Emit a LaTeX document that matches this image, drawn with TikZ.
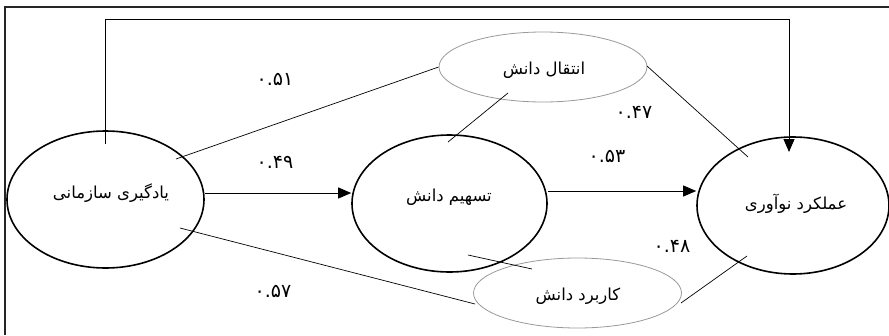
\documentclass[tikz,border=0pt]{standalone}
\usepackage{fontspec}
\usetikzlibrary{shapes.geometric,arrows.meta}
\newfontfamily\arabicfont[Script=Arabic]{DejaVu Sans}
\TeXXeTstate=1
\tikzset{
  main/.style={ellipse,draw=black,line width=1.6pt,inner sep=0pt},
  side/.style={ellipse,draw=black!40,line width=0.8pt,inner sep=0pt,minimum width=208pt,minimum height=70pt},
  lbl/.style={font=\arabicfont\fontsize{16.5}{18}\selectfont},
  coef/.style={font=\arabicfont\fontsize{19}{21}\selectfont},
  link/.style={line width=0.7pt},
  arr/.style={line width=0.9pt,-{Triangle[length=13pt,width=11pt]}},
}
\begin{document}
\begin{tikzpicture}[x=1pt,y=-1pt]
\useasboundingbox (0,0) rectangle (889,335);
% frame (top and left edges)
\draw[line width=2.2pt,black!85] (5,335) -- (5,7) -- (889,7);
% main nodes
\node[main,minimum width=197pt,minimum height=137pt] (L) at (105.5,199.5) {};
\node[main,minimum width=195pt,minimum height=137pt] (M) at (449.5,203.5) {};
\node[main,minimum width=192pt,minimum height=137pt] (R) at (793,205.5) {};
\node[side] (T) at (543,67) {};
\node[side] (B) at (577.5,293) {};
% texts
\node[lbl] (Lt) at (111,193) {\beginR یادگیری سازمانی\endR};
\node[lbl] (Mt) at (449,197) {\beginR تسهیم دانش\endR};
\node[lbl] (Rt) at (796,204) {\beginR عملکرد نوآوری\endR};
\node[lbl] (Tt) at (544,70) {\beginR انتقال دانش\endR};
\node[lbl] (Bt) at (578,296) {\beginR کاربرد دانش\endR};
% coefficients
\node[coef] (c51) at (275,79) {۰.۵۱};
\node[coef] (c49) at (275,162) {۰.۴۹};
\node[coef] (c47) at (634,112) {۰.۴۷};
\node[coef] (c53) at (607,156) {۰.۵۳};
\node[coef] (c48) at (672,246) {۰.۴۸};
\node[coef] (c57) at (273,291) {۰.۵۷};
% connector end points
\coordinate (fbS) at (105,144);
\coordinate (fbE) at (789,152);
\coordinate (lT) at (176,159);
\coordinate (tM1) at (508,93);
\coordinate (tM2) at (448,142);
\coordinate (tR1) at (647,66);
\coordinate (tR2) at (748,157);
\coordinate (lB1) at (180,228);
\coordinate (lB2) at (475,304);
\coordinate (mB1) at (468,255);
\coordinate (mB2) at (532,269);
\coordinate (bR1) at (681,303);
\coordinate (bR2) at (747,256);
% connectors
\draw[arr] (fbS) -- (105,19) -- (789,19) -- (fbE);
\draw[link] (lT) -- (T.west);
\draw[link] (tM1) -- (tM2);
\draw[link] (tR1) -- (tR2);
\draw[arr] (L.east |- 0,193) -- (M.west |- 0,193);
\draw[arr] (M.east |- 0,191) -- (R.west |- 0,191);
\draw[link] (lB1) -- (lB2);
\draw[link] (mB1) -- (mB2);
\draw[link] (bR1) -- (bR2);
\end{tikzpicture}
\end{document}
